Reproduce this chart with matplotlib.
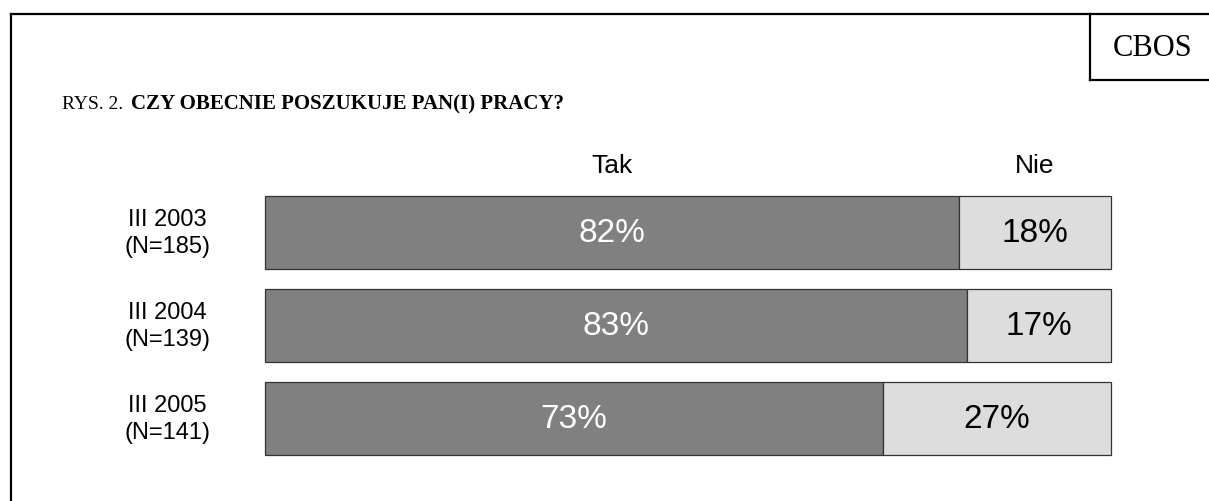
import matplotlib.pyplot as plt

# data
rows = ["III 2003\n(N=185)", "III 2004\n(N=139)", "III 2005\n(N=141)"]
tak = [82, 83, 73]
nie = [18, 17, 27]
series_names = ["Tak", "Nie"]

W, H = 1209, 502
fig = plt.figure(figsize=(W / 100, H / 100), dpi=100)

# frame / page decoration in pixel coordinates
page = fig.add_axes([0, 0, 1, 1])
page.set_xlim(0, W)
page.set_ylim(H, 0)
page.axis("off")
page.plot([11, 11], [15, H], color="black", lw=1.6)
page.plot([11, W], [15, 15], color="black", lw=1.6)
page.plot([1090, 1090], [15, 81], color="black", lw=1.6)
page.plot([1090, W], [81, 81], color="black", lw=1.6)
page.text(1153, 49, "CBOS", family="Liberation Serif", fontsize=22,
          ha="center", va="center")
page.text(62, 109, "RYS. 2.", family="Liberation Serif", fontsize=14,
          ha="left", va="baseline")
page.text(131, 109, "CZY OBECNIE POSZUKUJE PAN(I) PRACY?", family="Liberation Serif",
          fontsize=15, fontweight="bold", ha="left", va="baseline")

# bars
x0, x1 = 265, 1111
y0, y1 = 197, 456
ax = fig.add_axes([x0 / W, 1 - y1 / H, (x1 - x0) / W, (y1 - y0) / H])
pos = list(range(len(rows)))
h = 73 / 93
b1 = ax.barh(pos, tak, height=h, color="#808080", edgecolor="#333333", lw=0.9)
b2 = ax.barh(pos, nie, left=tak, height=h, color="#dddddd", edgecolor="#333333", lw=0.9)
for p in list(b1) + list(b2):
    p.set_clip_on(False)
ax.set_xlim(0, 100)
ax.set_ylim(len(rows) - 1 + h / 2, -h / 2)
ax.axis("off")

for i in pos:
    ax.text(tak[i] / 2, i, f"{tak[i]}%", color="white", fontsize=24,
            family="Liberation Sans", ha="center", va="center")
    ax.text(tak[i] + nie[i] / 2, i, f"{nie[i]}%", color="black", fontsize=24,
            family="Liberation Sans", ha="center", va="center")
    ax.text(-11.5, i, rows[i], fontsize=17, family="Liberation Sans",
            ha="center", va="center", linespacing=1.3)

# series headings above first row
ax.text(tak[0] / 2, -h / 2 - 0.33, series_names[0], fontsize=19,
        family="Liberation Sans", ha="center", va="center")
ax.text(tak[0] + nie[0] / 2, -h / 2 - 0.33, series_names[1], fontsize=19,
        family="Liberation Sans", ha="center", va="center")

fig.savefig("out.png", dpi=100)
